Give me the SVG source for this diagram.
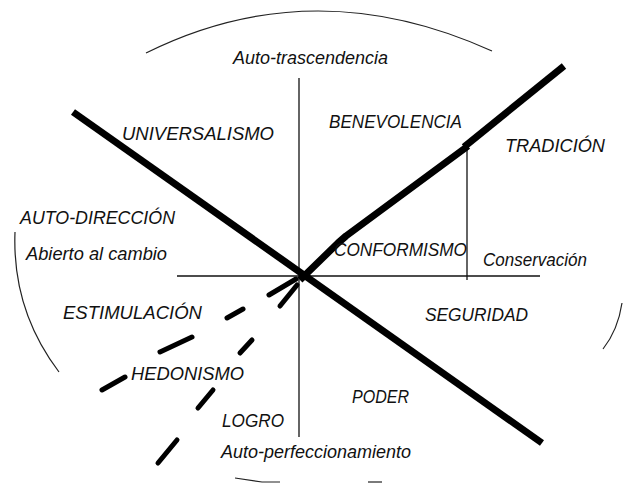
<svg xmlns="http://www.w3.org/2000/svg" width="623" height="483" viewBox="0 0 623 483">
<style>
.t{font-family:"Liberation Sans","DejaVu Sans",sans-serif;font-style:italic;font-size:18px;fill:#111}
.thin{stroke:#111;stroke-width:1.3;fill:none}
.arc{stroke:#222;stroke-width:1.2;fill:none}
.thick{stroke:#000;stroke-width:7;fill:none;stroke-linejoin:round}
.dash{stroke:#000;stroke-width:5;fill:none;stroke-linecap:round}
</style>
<rect width="623" height="483" fill="#fff"/>
<g id="frame">
<path class="arc" d="M146,53 Q313,-30 492,51"/>
<path class="arc" d="M15,232 Q12,310 59,372"/>
<path class="arc" d="M622,303 Q618,330 603,349"/>
<path class="arc" d="M235,478 L262,482 L280,482"/>
<path class="arc" d="M368,482 L382,482"/>
</g>
<g id="connectors">
<line class="thin" x1="299" y1="78" x2="299" y2="437"/>
<line class="thin" x1="177" y1="276" x2="540" y2="276"/>
<line class="thin" x1="467" y1="147" x2="467" y2="280"/>
<line class="thick" x1="73" y1="112" x2="542" y2="443"/>
<polyline class="thick" points="300,280 338,243 346,236 468,146"/>
<line class="thick" x1="464" y1="147" x2="564" y2="66"/>
<line class="dash" x1="269" y1="295" x2="296" y2="279"/>
<line class="dash" x1="227" y1="318" x2="243" y2="309"/>
<line class="dash" x1="160" y1="352" x2="192" y2="337"/>
<line class="dash" x1="102" y1="390" x2="125" y2="377"/>
<line class="dash" x1="280" y1="306" x2="297" y2="285"/>
<line class="dash" x1="240" y1="353" x2="252" y2="340"/>
<line class="dash" x1="198" y1="408" x2="213" y2="390"/>
<line class="dash" x1="158" y1="463" x2="177" y2="440"/>
</g>
<g id="auto-trascendencia"><text class="t" x="233" y="64" textLength="155" lengthAdjust="spacingAndGlyphs">Auto-trascendencia</text></g>
<g id="universalismo"><text class="t" x="122" y="140" textLength="152" lengthAdjust="spacingAndGlyphs">UNIVERSALISMO</text></g>
<g id="benevolencia"><text class="t" x="329" y="128" textLength="133" lengthAdjust="spacingAndGlyphs">BENEVOLENCIA</text></g>
<g id="tradicion"><text class="t" x="505" y="152" textLength="100" lengthAdjust="spacingAndGlyphs">TRADICIÓN</text></g>
<g id="auto-direccion"><text class="t" x="20" y="224" textLength="155" lengthAdjust="spacingAndGlyphs">AUTO-DIRECCIÓN</text></g>
<g id="abierto"><text class="t" x="26" y="260" textLength="141" lengthAdjust="spacingAndGlyphs">Abierto  al cambio</text></g>
<g id="conformismo"><text class="t" x="334" y="256" textLength="133" lengthAdjust="spacingAndGlyphs">CONFORMISMO</text></g>
<g id="conservacion"><text class="t" x="483" y="266" textLength="104" lengthAdjust="spacingAndGlyphs">Conservación</text></g>
<g id="estimulacion"><text class="t" x="63" y="319" textLength="139" lengthAdjust="spacingAndGlyphs">ESTIMULACIÓN</text></g>
<g id="seguridad"><text class="t" x="425" y="321" textLength="103" lengthAdjust="spacingAndGlyphs">SEGURIDAD</text></g>
<g id="hedonismo"><text class="t" x="131" y="380" textLength="113" lengthAdjust="spacingAndGlyphs">HEDONISMO</text></g>
<g id="poder"><text class="t" x="352" y="403" textLength="57" lengthAdjust="spacingAndGlyphs">PODER</text></g>
<g id="logro"><text class="t" x="222" y="427" textLength="62" lengthAdjust="spacingAndGlyphs">LOGRO</text></g>
<g id="auto-perfeccionamiento"><text class="t" x="221" y="458" textLength="190" lengthAdjust="spacingAndGlyphs">Auto-perfeccionamiento</text></g>
</svg>
